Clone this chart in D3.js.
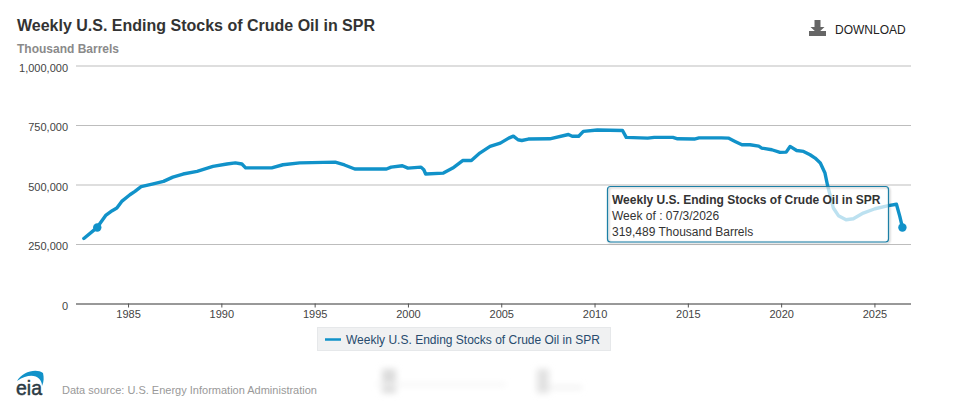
<!DOCTYPE html>
<html>
<head>
<meta charset="utf-8">
<script src="https://cdn.jsdelivr.net/npm/d3@7/dist/d3.min.js"></script>
<style>
  html, body { margin: 0; padding: 0; background: #fff; }
  svg { display: block; font-family: "Liberation Sans", Arial, sans-serif; }
</style>
</head>
<body>
<svg id="chart" width="957" height="404"></svg>
<script>
const chartTitle = "Weekly U.S. Ending Stocks of Crude Oil in SPR";
const unitLabel = "Thousand Barrels";
const sourceNote = "Data source: U.S. Energy Information Administration";

// Decimal year of each reading and the stock level in thousand barrels.
const years = [1982.63,1983.35,1983.8,1984.15,1984.4,1984.66,1985.1,1985.37,1985.7,1986.35,1986.9,1987.4,1987.95,1988.7,1989.55,1990.3,1990.75,1991.1,1991.3,1992.7,1993.3,1994.2,1996.1,1996.6,1997.15,1998.85,1999.1,1999.7,2000,2000.7,2000.85,2000.95,2001.9,2002.4,2002.95,2003.4,2003.85,2004.4,2004.95,2005.4,2005.65,2005.9,2006.1,2006.45,2007.6,2008.6,2008.8,2009.15,2009.4,2010.15,2011.5,2011.7,2012.85,2013.2,2014.2,2014.45,2015.35,2015.6,2016.8,2017.17,2017.53,2017.9,2018.33,2018.8,2018.96,2019.5,2019.94,2020.27,2020.48,2020.83,2021.2,2021.55,2021.82,2022.1,2022.35,2022.48,2022.8,2023.07,2023.48,2023.87,2024.4,2025.03,2025.75,2026.18,2026.36,2026.5];
const stocks = [273000,320000,370000,390000,401000,429000,457000,471000,491000,503000,513000,531000,544000,555000,576000,586000,591000,586000,570000,570000,583000,591000,594000,582000,565000,565000,573000,579000,569000,573000,562000,544000,548000,569000,601000,601000,632000,660000,674000,695000,703000,688000,685000,691000,692000,710000,703000,703000,723000,729000,727000,698000,695000,698000,698000,692000,691000,696000,696000,695000,681000,667000,667000,661000,653000,646000,635000,636000,660000,643000,639000,625000,611000,590000,548000,499000,401000,369000,352000,356000,380000,398000,411000,417000,366000,319489];

const yTicks = [0, 250000, 500000, 750000, 1000000];
const xTicks = [1985, 1990, 1995, 2000, 2005, 2010, 2015, 2020, 2025];
const xExtent = [1982.21, 2026.96];
const yExtent = [0, 1000000];

// Hover state: both markers carry the hovered reading's value.
const hoverYears = [1983.35, 2026.5];
const hoverValue = 319489;
const tooltipLines = ["Week of : 07/3/2026", "319,489 Thousand Barrels"];

const blue = "#1192c9";
const svg = d3.select("#chart");

const x = d3.scaleLinear().domain(xExtent).range([76, 911]);
const y = d3.scaleLinear().domain(yExtent).range([303.5, 65.5]);

// Heading
svg.append("text").attr("x", 17).attr("y", 31).attr("font-size", 16).attr("font-weight", 700)
  .attr("fill", "#333").text(chartTitle);
svg.append("text").attr("x", 17).attr("y", 53).attr("font-size", 12).attr("font-weight", 700)
  .attr("fill", "#8a8a8a").text(unitLabel);

// Download control
const dl = svg.append("g").attr("fill", "#666");
dl.append("path").attr("d", "M814.5 20h6v7h4l-7 6.5l-7-6.5h4z");
dl.append("rect").attr("x", 809).attr("y", 31).attr("width", 17).attr("height", 5);
svg.append("text").attr("x", 835).attr("y", 34).attr("font-size", 12).attr("fill", "#222").text("DOWNLOAD");

// Horizontal gridlines with value labels
const yAxis = d3.axisLeft(y).tickValues(yTicks).tickSize(0).tickPadding(8)
  .tickFormat(d3.format(","));
const yG = svg.append("g").attr("transform", "translate(76,0)").call(yAxis);
yG.select(".domain").remove();
yG.selectAll("text").attr("font-family", "inherit").attr("font-size", 11).attr("fill", "#444").attr("dy", "0.52em");
yG.selectAll(".tick").append("line").attr("x2", 835)
  .attr("stroke", d => d === 0 ? "#333" : "#bdbdbd").attr("stroke-width", 1);

// Year axis
const xAxis = d3.axisBottom(x).tickValues(xTicks).tickSize(4).tickPadding(3).tickFormat(d3.format("d"));
const xG = svg.append("g").attr("transform", "translate(0,303.5)").call(xAxis);
xG.select(".domain").remove();
xG.selectAll("line").attr("stroke", "#555");
xG.selectAll("text").attr("font-family", "inherit").attr("font-size", 11).attr("fill", "#444");

// Stock series
const series = years.map((yr, i) => ({ yr, v: stocks[i] }));
const line = d3.line().x(d => x(d.yr)).y(d => y(d.v)).curve(d3.curveLinear);
svg.append("path").datum(series).attr("d", line).attr("fill", "none")
  .attr("stroke", blue).attr("stroke-width", 3.4).attr("stroke-linejoin", "round").attr("stroke-linecap", "round");

svg.selectAll("circle.hover").data(hoverYears).join("circle").attr("class", "hover")
  .attr("cx", d => x(d)).attr("cy", y(hoverValue)).attr("r", 4.2).attr("fill", blue);

// Tooltip box sits over the series and lets it show through faintly;
// the shadow belongs to the outline only so the fill stays clean white.
const defs = svg.append("defs");
const shadow = defs.append("filter").attr("id", "tipShadow").attr("x", "-5%").attr("y", "-10%").attr("width", "110%").attr("height", "125%");
shadow.append("feDropShadow").attr("dx", 1).attr("dy", 1).attr("stdDeviation", 0.8).attr("flood-color", "#000").attr("flood-opacity", 0.3);
const tip = svg.append("g");
tip.append("rect").attr("x", 607.5).attr("y", 186.5).attr("width", 281).attr("height", 55.5).attr("rx", 3)
  .attr("fill", "#fff").attr("fill-opacity", 0.72);
tip.append("rect").attr("x", 607.5).attr("y", 186.5).attr("width", 281).attr("height", 55.5).attr("rx", 3)
  .attr("fill", "none").attr("stroke", "#1a7fa6").attr("stroke-width", 1.2)
  .attr("filter", "url(#tipShadow)");
tip.append("text").attr("x", 612).attr("y", 204).attr("font-size", 12).attr("font-weight", 700).attr("fill", "#333").text(chartTitle);
tip.selectAll("text.row").data(tooltipLines).join("text").attr("class", "row")
  .attr("x", 612).attr("y", (d, i) => 220 + i * 16).attr("font-size", 12).attr("fill", "#333").text(d => d);

// Legend
svg.append("rect").attr("x", 317.5).attr("y", 327.5).attr("width", 293).attr("height", 23)
  .attr("fill", "#f0f1f2").attr("stroke", "#e6e8ea");
svg.append("line").attr("x1", 325).attr("x2", 341).attr("y1", 339.5).attr("y2", 339.5)
  .attr("stroke", blue).attr("stroke-width", 2.5);
svg.append("text").attr("x", 346).attr("y", 344).attr("font-size", 12).attr("fill", "#274b6d").text(chartTitle);

// Agency mark and source note
svg.append("path").attr("d", "M17 381C22 372 36 368 43 373C44 377 44 382 42 386C42 377 32 371 17 381Z").attr("fill", "#1192c9");
svg.append("text").attr("x", 16).attr("y", 395).attr("font-size", 21).attr("font-weight", 400)
  .attr("stroke", "#2b3a44").attr("stroke-width", 0.5)
  .attr("fill", "#2b3a44").attr("textLength", 26).attr("lengthAdjust", "spacingAndGlyphs").text("eia");
svg.append("text").attr("x", 62).attr("y", 394).attr("font-size", 11).attr("fill", "#999").text(sourceNote);

// Faint smudged strip beside the source note
const soft = defs.append("filter").attr("id", "soft").attr("x", "-60%").attr("y", "-60%").attr("width", "220%").attr("height", "220%");
soft.append("feGaussianBlur").attr("stdDeviation", 3);
const smudge = svg.append("g").attr("filter", "url(#soft)");
smudge.append("rect").attr("x", 382).attr("y", 369).attr("width", 14).attr("height", 24).attr("fill", "#dcdcdc");
smudge.append("rect").attr("x", 537).attr("y", 369).attr("width", 12).attr("height", 24).attr("fill", "#e2e2e2");
smudge.append("rect").attr("x", 376).attr("y", 383).attr("width", 130).attr("height", 3).attr("fill", "#f4f4f4");
smudge.append("rect").attr("x", 548).attr("y", 386).attr("width", 34).attr("height", 3).attr("fill", "#ececec");
</script>
</body>
</html>
